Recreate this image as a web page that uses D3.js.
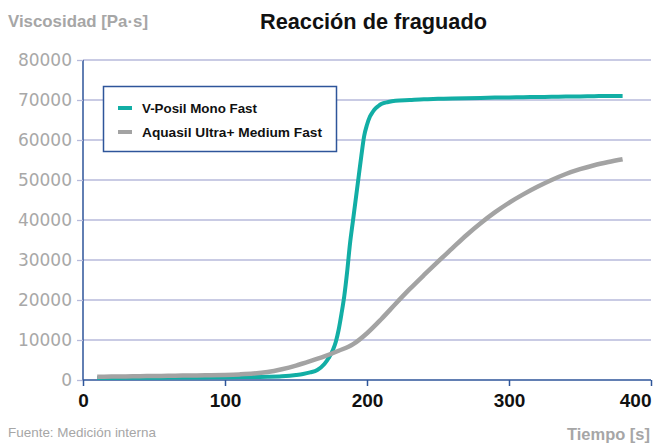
<!DOCTYPE html>
<html><head><meta charset="utf-8">
<script src="https://cdn.jsdelivr.net/npm/d3@7"></script>
<style>
html,body{margin:0;padding:0;background:#fff;}
svg{display:block;}
</style></head>
<body>
<script>
const seriesNames = ["V-Posil Mono Fast", "Aquasil Ultra+ Medium Fast"];
const seriesColors = ["#12aea5", "#a3a3a3"];
const xTicks = [0, 100, 200, 300, 400];
const yTicks = [0, 10000, 20000, 30000, 40000, 50000, 60000, 70000, 80000];

const timeMono = [10,20,30,40,50,60,70,80,90,100,110,120,130,140,150,155,160,165,170,173,176,178,180,182,184,186,188,190,192,194,196,198,200,202,204,206,208,210,215,220,230,240,250,260,270,280,290,300,310,320,330,340,350,360,370,380];
const valMono = [500,520,540,560,580,600,620,640,660,690,720,760,820,950,1250,1500,1900,2500,4000,5500,7500,9500,12500,16500,21000,27000,34000,39500,45000,50500,56000,61000,63800,65800,67000,67900,68500,69000,69500,69800,70000,70200,70300,70400,70450,70500,70600,70650,70700,70750,70800,70850,70900,70950,71000,71000];

const timeAqua = [10,20,30,40,50,60,70,80,90,100,110,120,130,140,150,160,170,180,190,200,210,220,230,240,250,260,270,280,290,300,310,320,330,340,350,360,370,380];
const valAqua = [800,850,900,950,1000,1050,1100,1150,1200,1280,1400,1600,2000,2700,3600,4700,5900,7300,8900,11700,15200,19000,22700,26200,29600,32900,36200,39200,41900,44300,46400,48300,50000,51500,52700,53700,54500,55200];

const W = 654, H = 443;
const svg = d3.select("body").append("svg").attr("width", W).attr("height", H);

const x = d3.scaleLinear().domain([0, 400]).range([83, 651]);
const y = d3.scaleLinear().domain([0, 80000]).range([380, 60]);

const axisColor = "#2e559a";
const gridColor = "#b7badb";

// gridlines
svg.append("g").selectAll("line").data(yTicks.filter(d => d > 0)).join("line")
  .attr("x1", 83).attr("x2", 651)
  .attr("y1", d => y(d)).attr("y2", d => y(d))
  .attr("stroke", gridColor).attr("stroke-width", 1.3);

// y axis
const yAxis = svg.append("g").attr("transform", "translate(83,0)")
  .call(d3.axisLeft(y).tickValues(yTicks).tickFormat(d3.format("d")).tickSize(6).tickPadding(5));
yAxis.select(".domain").attr("stroke", axisColor).attr("stroke-width", 1.5).attr("d", "M0,380V60");
yAxis.selectAll(".tick line").attr("stroke", gridColor).attr("stroke-width", 1.3);
yAxis.selectAll(".tick text").attr("fill", "#a8a8a8")
  .style("font-family", "'DejaVu Sans', Verdana, sans-serif").style("font-size", "17px");

// x axis
const xAxis = svg.append("g").attr("transform", "translate(0,380)")
  .call(d3.axisBottom(x).tickValues(xTicks).tickFormat(d3.format("d")).tickSize(6).tickPadding(8));
xAxis.select(".domain").attr("stroke", axisColor).attr("stroke-width", 1.5).attr("d", "M83,0H651");
xAxis.selectAll(".tick line").attr("stroke", axisColor).attr("stroke-width", 1.5);
xAxis.selectAll(".tick text").attr("fill", "#111")
  .style("font-family", "'Liberation Sans', Arial, sans-serif").style("font-size", "19px").style("font-weight", "bold");
xAxis.selectAll(".tick text").filter(d => d === 400).attr("text-anchor", "end");

// lines
const line = d3.line().x(d => x(d[0])).y(d => y(d[1])).curve(d3.curveMonotoneX);
const monoData = timeMono.map((t, i) => [t, valMono[i]]);
const aquaData = timeAqua.map((t, i) => [t, valAqua[i]]);

svg.append("path").datum(monoData).attr("d", line)
  .attr("fill", "none").attr("stroke", seriesColors[0]).attr("stroke-width", 4)
  .attr("stroke-linejoin", "round");
svg.append("path").datum(aquaData).attr("d", line)
  .attr("fill", "none").attr("stroke", seriesColors[1]).attr("stroke-width", 4.5)
  .attr("stroke-linejoin", "round");

// legend
const lg = svg.append("g");
lg.append("rect").attr("x", 103.5).attr("y", 86.5).attr("width", 233).attr("height", 65)
  .attr("fill", "#fff").attr("stroke", axisColor).attr("stroke-width", 1.5);
const lgW = [115, 180];
seriesNames.forEach((n, i) => {
  const yy = 108 + i * 24;
  lg.append("line").attr("x1", 118).attr("x2", 132).attr("y1", yy).attr("y2", yy)
    .attr("stroke", seriesColors[i]).attr("stroke-width", 4);
  lg.append("text").attr("x", 142).attr("y", yy + 5).text(n)
    .attr("fill", "#111")
    .attr("textLength", lgW[i]).attr("lengthAdjust", "spacingAndGlyphs")
    .style("font-family", "'Liberation Sans', Arial, sans-serif").style("font-size", "13.5px").style("font-weight", "bold");
});

// titles
svg.append("text").attr("x", 260).attr("y", 29).text("Reacción de fraguado")
  .attr("fill", "#111").attr("textLength", 227).attr("lengthAdjust", "spacingAndGlyphs")
  .style("font-family", "'Liberation Sans Narrow', 'Liberation Sans', Arial, sans-serif")
  .style("font-size", "22px").style("font-weight", "bold");
svg.append("text").attr("x", 8).attr("y", 27).text("Viscosidad [Pa·s]")
  .attr("fill", "#a6a6a6").attr("textLength", 140).attr("lengthAdjust", "spacingAndGlyphs")
  .style("font-family", "'Liberation Sans Narrow', 'Liberation Sans', Arial, sans-serif")
  .style("font-size", "17px").style("font-weight", "bold");
svg.append("text").attr("x", 8).attr("y", 437).text("Fuente: Medición interna")
  .attr("fill", "#a6a6a6").attr("textLength", 148).attr("lengthAdjust", "spacingAndGlyphs")
  .style("font-family", "'Liberation Sans Narrow', 'Liberation Sans', Arial, sans-serif")
  .style("font-size", "13px");
svg.append("text").attr("x", 650).attr("y", 440).attr("text-anchor", "end").text("Tiempo [s]")
  .attr("fill", "#a6a6a6").attr("textLength", 83).attr("lengthAdjust", "spacingAndGlyphs")
  .style("font-family", "'Liberation Sans Narrow', 'Liberation Sans', Arial, sans-serif")
  .style("font-size", "17px").style("font-weight", "bold");
</script>
</body></html>
